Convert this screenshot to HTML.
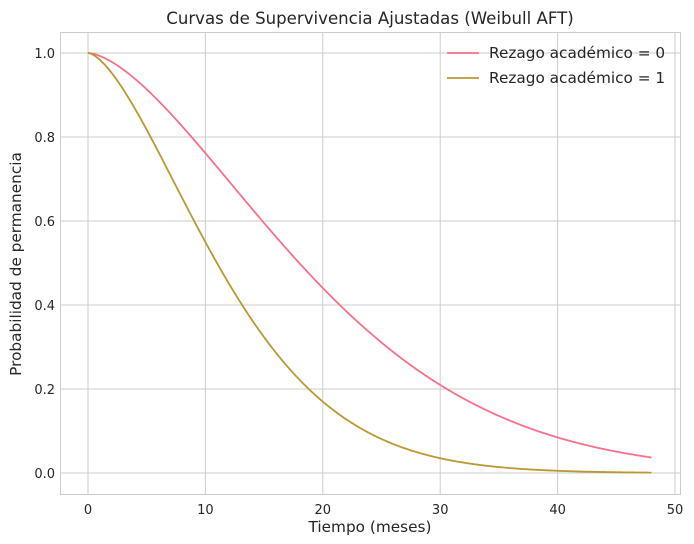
<!DOCTYPE html>
<html><head><meta charset="utf-8"><style>
body{margin:0;background:#fff;}
svg{display:block;font-family:"DejaVu Sans","Liberation Sans",sans-serif;}
</style></head><body>
<svg id="s" width="694" height="544" xmlns="http://www.w3.org/2000/svg">
<rect width="694" height="544" fill="#fff"/>
<g id="grid" stroke="#cccccc" stroke-width="1"></g>
<rect x="60.5" y="32.5" width="620" height="462" fill="none" stroke="#cccccc" stroke-width="1"/>
<g id="lab" font-size="13" fill="#262626"></g>
<path id="c0" fill="none" stroke="#f77189" stroke-width="1.8"/>
<path id="c1" fill="none" stroke="#bb9832" stroke-width="1.8"/>
<text x="370" y="24" text-anchor="middle" font-size="16.6" fill="#262626">Curvas de Supervivencia Ajustadas (Weibull AFT)</text>
<text x="370" y="532" text-anchor="middle" font-size="15.3" fill="#262626">Tiempo (meses)</text>
<text transform="translate(21,264) rotate(-90)" text-anchor="middle" font-size="15.3" fill="#262626">Probabilidad de permanencia</text>
<line x1="447" y1="53" x2="479" y2="53" stroke="#f77189" stroke-width="1.8"/>
<line x1="447" y1="78" x2="479" y2="78" stroke="#bb9832" stroke-width="1.8"/>
<text x="489" y="58" font-size="15.3" fill="#262626">Rezago académico = 0</text>
<text x="489" y="83" font-size="15.3" fill="#262626">Rezago académico = 1</text>
</svg>
<script>
var X=function(t){return 88+t*11.74;},Y=function(v){return 473-v*420;};
var g=document.getElementById('grid'),l=document.getElementById('lab'),ns='http://www.w3.org/2000/svg';
function el(p,tag,a,txt){var e=document.createElementNS(ns,tag);for(var k in a)e.setAttribute(k,a[k]);if(txt!=null)e.textContent=txt;p.appendChild(e);}
for(var t=0;t<=50;t+=10){var x=X(t);el(g,'line',{x1:x,x2:x,y1:32,y2:494});el(l,'text',{x:x,y:514,'text-anchor':'middle'},String(t));}
for(var i=0;i<=5;i++){var v=i*0.2,y=Y(v);el(g,'line',{x1:60,x2:680,y1:y,y2:y});el(l,'text',{x:55,y:y+5,'text-anchor':'end'},v.toFixed(1));}
function curve(id,lam,k){var d='';for(var j=0;j<=480;j++){var t=j*0.1,s=Math.exp(-Math.pow(t/lam,k));d+=(j?'L':'M')+X(t).toFixed(2)+' '+Y(s).toFixed(2);}document.getElementById(id).setAttribute('d',d);}
curve('c0',22.66,1.59);curve('c1',13.88,1.567);
</script>
</body></html>
